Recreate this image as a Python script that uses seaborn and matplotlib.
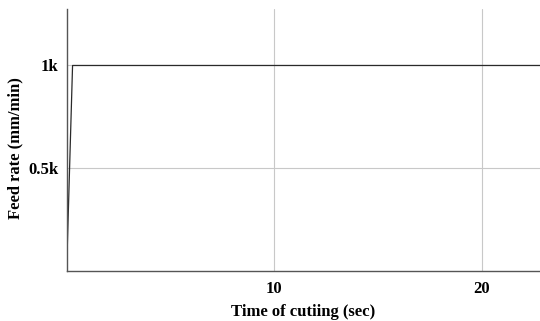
import matplotlib
matplotlib.use("Agg")
import pandas as pd
import seaborn as sns
from matplotlib import pyplot as plt
from matplotlib.ticker import FixedLocator

# feed rate trace
time_sec = [0.0, 0.27, 22.8]
feed_rate = [60, 1000, 1000]
x_ticks = [10, 20]
y_ticks = [500, 1000]
y_tick_labels = ["0.5k", "1k"]

df = pd.DataFrame({"time": time_sec, "feed": feed_rate})

sns.set_style("white")
plt.rcParams["font.family"] = ["Liberation Serif", "DejaVu Serif"]
plt.rcParams["text.color"] = "black"
plt.rcParams["axes.labelcolor"] = "black"
plt.rcParams["xtick.color"] = "black"
plt.rcParams["ytick.color"] = "black"

fig = plt.figure(figsize=(5.4, 3.21), dpi=100)
ax = fig.add_axes([0.124, 0.156, 0.876, 0.816])

sns.lineplot(data=df, x="time", y="feed", ax=ax, color="#2a2a2a", linewidth=0.9)

ax.set_xlim(0, 22.8)
ax.set_ylim(0, 1275)
ax.xaxis.set_major_locator(FixedLocator(x_ticks))
ax.yaxis.set_major_locator(FixedLocator(y_ticks))
ax.set_yticklabels(y_tick_labels)
ax.grid(True, color="#c8c8c8", linewidth=0.8)
ax.set_axisbelow(True)

for side in ["top", "right"]:
    ax.spines[side].set_visible(False)
for side in ["left", "bottom"]:
    ax.spines[side].set_color("#555555")
    ax.spines[side].set_linewidth(1.0)

ax.tick_params(axis="x", length=0, pad=7, labelsize=12)
ax.tick_params(axis="y", length=0, pad=6, labelsize=12)
for lbl in ax.get_xticklabels() + ax.get_yticklabels():
    lbl.set_fontweight("bold")

ax.set_xlabel("Time of cutiing (sec)", fontsize=12, fontweight="bold")
ax.xaxis.set_label_coords(0.5, -0.125)
ax.set_ylabel("Feed rate (mm/min)", fontsize=12, fontweight="bold")
ax.yaxis.set_label_coords(-0.092, 0.47)

fig.savefig("out.png", dpi=100)
plt.close(fig)
